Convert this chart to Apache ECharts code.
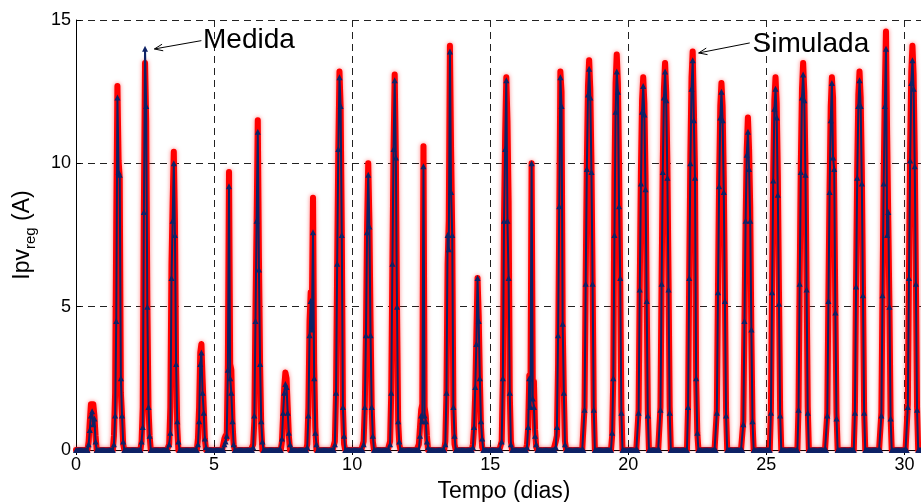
<!DOCTYPE html>
<html>
<head>
<meta charset="utf-8">
<script src="https://cdn.jsdelivr.net/npm/echarts@6/dist/echarts.min.js"></script>
<style>
html,body{margin:0;padding:0;background:#fff;overflow:hidden;}
#c{width:921px;height:502px;}
</style>
</head>
<body>
<div id="c"></div>
<script>
// ---- data: hourly readings (h = 0..23) for each day 0..30 ----
const xTicks = [0, 5, 10, 15, 20, 25, 30];
const yTicks = [0, 5, 10, 15];
const xName = 'Tempo (dias)';
const yName = 'Ipv{sub|reg} (A)';
const seriesNames = ['Simulada', 'Medida'];

const simulada = [
 [0,0,0,0,0,0,0,0,0, 0,0,0.3,1,1.6,1.65,1.6,1.2,0.5,0,0, 0,0,0,0],
 [0,0,0,0,0,0,0,0, 0,0.5,2,8,12.7,10.1,9.5,2,1.2,0.2,0, 0,0,0,0,0],
 [0,0,0,0,0,0,0,0, 0,0.3,1.5,8.5,13.5,11.5,5.2,1.5,0.5,0,0, 0,0,0,0,0],
 [0,0,0,0,0,0,0,0, 0,0.2,1.5,6.5,8.6,10.4,8,3,0.8,0,0, 0,0,0,0,0],
 [0,0,0,0,0,0,0,0, 0,0,0.4,1.5,3.4,3.7,2.5,1.5,0.4,0,0, 0,0,0,0,0],
 [0,0,0,0,0,0,0,0, 0,0.4,0.5,0.4,3,9.7,3,2.8,1,0.2,0, 0,0,0,0,0],
 [0,0,0,0,0,0,0,0,0, 0,0.2,1,4.9,8,11.5,6.7,3,0.8,0,0, 0,0,0,0],
 [0,0,0,0,0,0,0,0,0, 0,0,0.3,1.2,2.2,2.7,2.5,1.5,0.5,0,0, 0,0,0,0],
 [0,0,0,0,0,0,0,0, 0,0.2,1.5,4.5,5.5,5,8.8,3,0.8,0,0, 0,0,0,0,0],
 [0,0,0,0,0,0,0,0, 0,0.3,2,6.5,10.5,13.2,12,7.7,1.5,0.2,0, 0,0,0,0,0],
 [0,0,0,0,0,0,0,0,0, 0,0.3,1.5,4,7.8,10,8,4.5,1.5,0.3,0, 0,0,0,0],
 [0,0,0,0,0,0,0,0, 0,0.3,2,6.5,10.5,13.1,10.3,5,1,0.2,0, 0,0,0,0,0],
 [0,0,0,0,0,0,0,0,0, 0,0.2,0.8,1.4,1.6,10.6,1.5,1.2,0.5,0,0, 0,0,0,0],
 [0,0,0,0,0,0,0,0, 0,0.3,2,6.5,8,14.1,10.5,7.6,1.5,0.2,0, 0,0,0,0,0],
 [0,0,0,0,0,0,0,0, 0,0.2,0.8,2,4,6,4.7,2.5,0.8,0.1,0, 0,0,0,0,0],
 [0,0,0,0,0,0,0,0,0, 0,0.3,2.5,8,11,13,11.5,8.7,2,0.3,0, 0,0,0,0],
 [0,0,0,0,0,0,0, 0,0.2,0.8,2.6,1.8,10,2.3,2.4,0.7,0.1,0, 0,0,0,0,0,0],
 [0,0,0,0,0,0,0,0, 0,0.3,0.5,3,8,13.2,12.5,4.4,2,0.3,0, 0,0,0,0,0],
 [0,0,0,0,0,0,0,0,0, 0,1.5,6,10,12.7,13.6,12.6,10,6,1.5,0, 0,0,0,0],
 [0,0,0,0,0,0,0,0,0, 0,0.5,2.6,9.5,12.8,13.8,12.8,10,6,1.5,0, 0,0,0,0],
 [0,0,0,0,0,0,0,0, 0,1.4,5.8,9.7,12.2,13,12.1,9.6,5.5,1.4,0, 0,0,0,0,0],
 [0,0,0, 0,1.5,6,10,12.6,13.5,12.5,10,6,1.5,0, 0,0,0,0,0,0,0,0,0,0],
 [0,0,0, 0,1.5,6.2,10.3,13,13.9,12,9.7,2.5,0.6,0, 0,0,0,0,0,0,0,0,0,0],
 [0,0,0,0, 0,1.4,5.7,9.5,12,12.8,12,9.5,5.6,1.4,0, 0,0,0,0,0,0,0,0,0],
 [0,0,0, 0,1,4.5,8,10.5,11.6,10.5,8.5,4,1,0, 0,0,0,0,0,0,0,0,0,0],
 [0,0,0, 0,1.4,5.8,9.7,12.2,13,12.1,9.6,5.5,1.4,0, 0,0,0,0,0,0,0,0,0,0],
 [0,0,0, 0,1.5,6,10,12.6,13.5,12.5,10,5.9,1.5,0, 0,0,0,0,0,0,0,0,0,0],
 [0,0,0,0, 0,1.3,5.5,9.2,12,13,12.3,9,5,1.3,0, 0,0,0,0,0,0,0,0,0],
 [0,0,0,0, 0,1.4,5.9,9.8,12.4,13.2,12.3,9.8,5.7,1.4,0, 0,0,0,0,0,0,0,0,0],
 [0,0,0, 0,1.3,5.5,9.5,12.5,14.6,11,8,5,1.2,0, 0,0,0,0,0,0,0,0,0,0],
 [0,0, 0,1.6,6.3,10.5,13.2,14.1,13.1,10.4,6,1.5,0, 0,0,0,0,0,0,0,0,0,0,0]
];

const medida = [
 [0,0,0,0,0,0,0,0,0, 0,0,0.2,0.7,1.2,1.35,0.9,1.1,0.3,0,0, 0,0,0,0],
 [0,0,0,0,0,0,0,0, 0,0.2,1.2,4.5,12.3,9.7,9.6,2.5,1.2,0.3,0, 0,0,0,0,0],
 [0,0,0,0,0,0,0,0, 0,0.3,0.8,8.3,14,12,5,1.5,0.5,0,0, 0,0,0,0,0],
 [0,0,0,0,0,0,0,0, 0,0.2,0.6,6,8,10,7.5,3,1,0.3,0, 0,0,0,0,0],
 [0,0,0,0,0,0,0,0, 0,0,0.2,1,3,3.4,2,1.3,0.4,0.1,0, 0,0,0,0,0],
 [0,0,0,0,0,0,0,0, 0,0.2,0.3,0.5,2.8,9.2,2.5,2,1,0.2,0, 0,0,0,0,0],
 [0,0,0,0,0,0,0,0,0, 0,0.1,1.2,4.5,8,11.1,6.3,3,1,0.3,0, 0,0,0,0],
 [0,0,0,0,0,0,0,0,0, 0,0,0.4,1.3,2,2.3,2.2,1.3,0.6,0.2,0, 0,0,0,0],
 [0,0,0,0,0,0,0,0, 0,0.1,1.2,4,5.2,4.2,7.6,2.5,0.6,0.2,0, 0,0,0,0,0],
 [0,0,0,0,0,0,0,0, 0,0.2,2,6.5,10.5,13,12,7.5,1.5,0.5,0, 0,0,0,0,0],
 [0,0,0,0,0,0,0,0,0, 0,0.2,1.5,4,7.6,9.6,7.8,4,1.5,0.5,0, 0,0,0,0],
 [0,0,0,0,0,0,0,0, 0,0.2,2,6.5,10.5,12.9,10.2,5,1,0.3,0, 0,0,0,0,0],
 [0,0,0,0,0,0,0,0,0, 0,0,0.5,1.2,1,9.9,1.2,1,0.3,0.1,0, 0,0,0,0],
 [0,0,0,0,0,0,0,0, 0,0.2,2,7.5,7,13.9,9,7.5,1.5,0.5,0, 0,0,0,0,0],
 [0,0,0,0,0,0,0,0, 0,0.1,0.8,2.2,3.7,6,4.5,2.5,1,0.4,0, 0,0,0,0,0],
 [0,0,0,0,0,0,0,0,0, 0,0.3,2.5,8,10.5,12.9,8,6,2,0.2,0, 0,0,0,0],
 [0,0,0,0,0,0,0, 0,0.1,0.8,2.5,1.5,10,1.8,1.5,0.5,0.2,0, 0,0,0,0,0,0],
 [0,0,0,0,0,0,0,0, 0,0.1,0.8,4,8.5,13,12,4.4,2,0.2,0, 0,0,0,0,0],
 [0,0,0,0,0,0,0,0,0, 0,1.4,5.8,9.8,12.4,13.3,12.3,9.7,5.8,1.4,0, 0,0,0,0],
 [0,0,0,0,0,0,0,0,0, 0,0.6,2.5,7.5,11.8,13.2,12.5,8.5,6,1.3,0, 0,0,0,0],
 [0,0,0,0,0,0,0,0, 0,1.3,5.6,9.3,11.8,12.7,11.7,9.1,5.2,1.2,0, 0,0,0,0,0],
 [0,0,0, 0,1.4,5.8,9.7,12.3,13.2,12.2,9.5,5.6,1.3,0, 0,0,0,0,0,0,0,0,0,0],
 [0,0,0, 0,1.5,6,10,12.6,13.6,11.5,9.5,2.5,0.6,0, 0,0,0,0,0,0,0,0,0,0],
 [0,0,0,0, 0,1.3,5.5,9.2,11.6,12.5,11.5,9,5.2,1.2,0, 0,0,0,0,0,0,0,0,0],
 [0,0,0, 0,0.9,4.5,8,10.3,11.1,9.8,8,4.2,1,0, 0,0,0,0,0,0,0,0,0,0],
 [0,0,0, 0,1.3,5.5,9.4,11.9,12.6,11.6,8.9,5.1,1.2,0, 0,0,0,0,0,0,0,0,0,0],
 [0,0,0, 0,1.4,5.8,9.7,12.3,13.1,12.2,9.6,5.6,1.3,0, 0,0,0,0,0,0,0,0,0,0],
 [0,0,0,0, 0,1.2,5.2,9,11.5,12.8,10.2,9.8,4.8,1.1,0, 0,0,0,0,0,0,0,0,0],
 [0,0,0,0, 0,1.3,5.7,9.5,12,12.9,12,9.3,5.4,1.3,0, 0,0,0,0,0,0,0,0,0],
 [0,0,0, 0,1.2,5.4,9.3,12,14,7.5,8.3,5,1.1,0, 0,0,0,0,0,0,0,0,0,0],
 [0,0, 0,1.5,6,10.1,12.8,13.6,12.6,9.9,5.8,1.4,0, 0,0,0,0,0,0,0,0,0,0,0]
];

// annotation anchors (data coordinates): arrow tip, arrow tail, label
const annotations = [
  {text: 'Medida',   tip: [2.84, 13.99], tail: [4.54, 14.28], label: [4.6, 14.3]},
  {text: 'Simulada', tip: [22.55, 13.85], tail: [24.4, 14.2], label: [24.5, 14.15]}
];

function toSeries(rows) {
  const out = [];
  rows.forEach((r, d) => {
    if (r.length !== 24) throw new Error('row ' + d + ' has ' + r.length + ' values');
    r.forEach((v, h) => out.push([d + h / 24, v]));
  });
  return out;
}

const FONT = '"Liberation Sans", Arial, Helvetica, sans-serif';
const chart = echarts.init(document.getElementById('c'), null, {renderer: 'canvas'});

const option = {
  backgroundColor: '#ffffff',
  animation: false,
  grid: {left: 76, top: 20, width: 856, height: 430, containLabel: false, outerBoundsMode: 'none'},
  xAxis: [{
    type: 'value', min: 0, max: 31, interval: 5,
    name: xName, nameLocation: 'middle', nameGap: 30,
    nameTextStyle: {fontFamily: FONT, fontSize: 23, color: '#000'},
    axisLine: {show: true, onZero: false, lineStyle: {color: '#000', width: 1}},
    axisTick: {show: true, inside: true, length: 5, lineStyle: {color: '#000'}},
    axisLabel: {fontFamily: FONT, fontSize: 18, color: '#000', margin: 6,
      formatter: v => (xTicks.indexOf(v) >= 0 ? String(v) : '')},
    splitLine: {show: true, lineStyle: {color: '#222', type: [7, 5], width: 1}}
  }, {
    type: 'value', min: 0, max: 31, interval: 5, position: 'top',
    axisLine: {show: true, lineStyle: {color: '#000', width: 1}},
    axisTick: {show: true, inside: true, length: 5, lineStyle: {color: '#000'}},
    axisLabel: {show: false}, splitLine: {show: false}
  }],
  yAxis: [{
    type: 'value', min: 0, max: 15, interval: 5,
    name: yName, nameLocation: 'middle', nameGap: 38,
    nameTextStyle: {fontFamily: FONT, fontSize: 23, color: '#000', lineHeight: 30,
      rich: {sub: {fontFamily: FONT, fontSize: 15, color: '#000', lineHeight: 15, verticalAlign: 'bottom'}}},
    axisLine: {show: true, lineStyle: {color: '#000', width: 1}},
    axisTick: {show: true, inside: true, length: 5, lineStyle: {color: '#000'}},
    axisLabel: {fontFamily: FONT, fontSize: 18, color: '#000', margin: 5,
      formatter: v => (yTicks.indexOf(v) >= 0 ? String(v) : '')},
    splitLine: {show: true, lineStyle: {color: '#222', type: [7, 5], width: 1}}
  }],
  series: [{
    name: seriesNames[0], type: 'line', xAxisIndex: 0, yAxisIndex: 0,
    data: toSeries(simulada), showSymbol: false, symbol: 'none',
    lineStyle: {color: '#ff0000', width: 6, join: 'round', cap: 'round',
      shadowBlur: 4, shadowColor: 'rgba(255,0,0,0.5)'},
    z: 2
  }, {
    name: seriesNames[1], type: 'line', xAxisIndex: 0, yAxisIndex: 0,
    data: toSeries(medida), showSymbol: true, symbol: 'triangle', symbolSize: 6,
    itemStyle: {color: '#0e2266'},
    lineStyle: {color: '#0e2266', width: 2},
    z: 3
  }]
};
chart.setOption(option);

// annotations: text with open arrows, positioned through the chart's scales
const g = [];
annotations.forEach(a => {
  const tip = chart.convertToPixel({gridIndex: 0}, a.tip);
  const tail = chart.convertToPixel({gridIndex: 0}, a.tail);
  const lab = chart.convertToPixel({gridIndex: 0}, a.label);
  const ang = Math.atan2(tail[1] - tip[1], tail[0] - tip[0]);
  const L = 9, w = 0.38;
  const p1 = [tip[0] + L * Math.cos(ang + w), tip[1] + L * Math.sin(ang + w)];
  const p2 = [tip[0] + L * Math.cos(ang - w), tip[1] + L * Math.sin(ang - w)];
  g.push({type: 'line', shape: {x1: tail[0], y1: tail[1], x2: tip[0], y2: tip[1]},
    style: {stroke: '#000', lineWidth: 1}, z: 10});
  g.push({type: 'polyline', shape: {points: [p1, tip, p2]},
    style: {stroke: '#000', lineWidth: 1, fill: null}, z: 10});
  g.push({type: 'text', x: lab[0], y: lab[1],
    style: {text: a.text, font: '28px ' + FONT, fill: '#000', textAlign: 'left', textVerticalAlign: 'middle'}, z: 10});
});
chart.setOption({graphic: g});
</script>
</body>
</html>
